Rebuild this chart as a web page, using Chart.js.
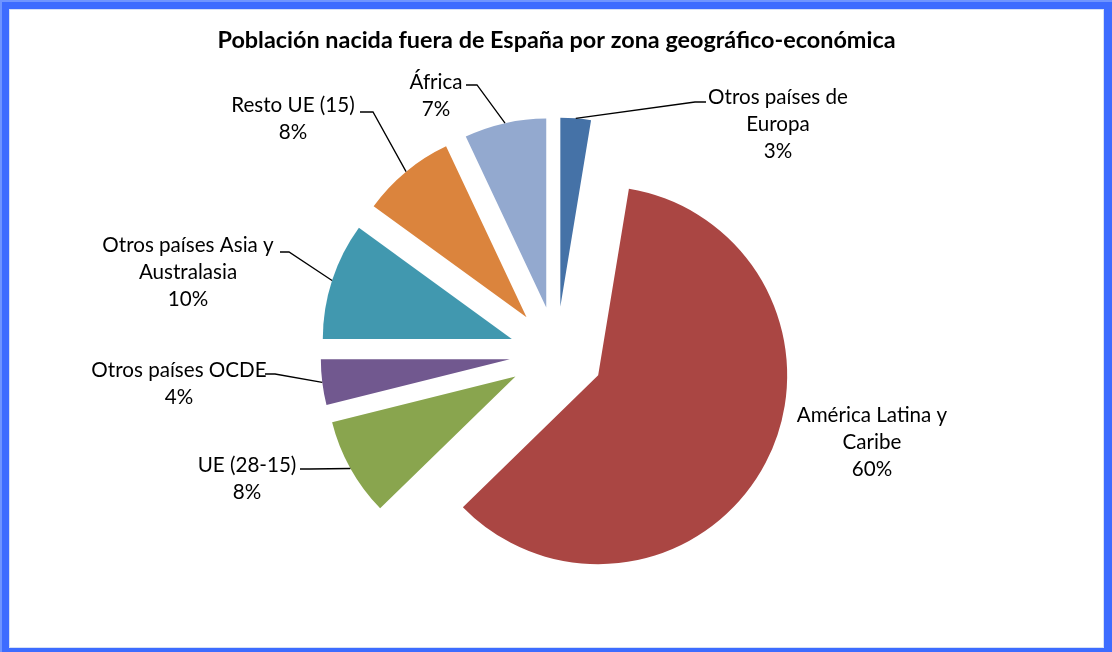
<!DOCTYPE html>
<html>
<head>
<meta charset="utf-8">
<script src="https://cdn.jsdelivr.net/npm/chart.js@4/dist/chart.umd.min.js"></script>
<style>
  body { margin: 0; background: #fff; }
  canvas { display: block; }
</style>
</head>
<body>
<canvas id="pieChartID" width="1112" height="652"></canvas>
<script>
// zones (one array of lines per label), shares in percent
var zones = [
    ['Otros países de', 'Europa'],
    ['América Latina y', 'Caribe'],
    ['UE (28-15)'],
    ['Otros países OCDE'],
    ['Otros países Asia y', 'Australasia'],
    ['Resto UE (15)'],
    ['África']
];
var shares = [2.6, 60.1, 8.4, 3.9, 10.0, 8.0, 7.0];
var sliceColors = ['#4572A7', '#AA4643', '#89A54E', '#71588F', '#4198AF', '#DB843D', '#93A9CF'];

// where each label sits, relative to the pie centre: text = first line centre,
// elbow/end = leader line bend and the end next to the text (null = no leader)
var labelSpots = [
    {text: [221.5, -256.5], elbow: [138.5, -251.5], end: [149.5, -251.5]},
    {text: [315.5, 61.5], elbow: null, end: null},
    {text: [-309.5, 111.5], elbow: [-246.5, 115.5], end: [-256.5, 115.5]},
    {text: [-377.5, 16.5], elbow: [-281.5, 20.5], end: [-291.5, 20.5]},
    {text: [-368.5, -108.5], elbow: [-267.5, -101.5], end: [-276.5, -101.5]},
    {text: [-263.5, -248.5], elbow: [-183.5, -241.5], end: [-196.5, -241.5]},
    {text: [-120.5, -271.5], elbow: [-79.5, -268.5], end: [-90.5, -268.5]}
];

var explode = 47;
var labelFont = '20.6px Lato';
var lineHeight = 27;

// blue frame round the whole picture
var framePlugin = {
    id: 'frame',
    beforeDraw: function(chart) {
        var ctx = chart.ctx;
        var w = chart.width, h = chart.height;
        ctx.save();
        ctx.fillStyle = '#3D6CFF';
        ctx.fillRect(0, 0, w, h);
        ctx.fillStyle = '#6F95FF';
        ctx.fillRect(0, 0, w, 2);
        ctx.fillRect(0, 0, 2, h);
        ctx.fillStyle = '#D5E0F7';
        ctx.fillRect(9, 9, w - 17, h - 13);
        ctx.fillStyle = '#ffffff';
        ctx.fillRect(10, 10, w - 19, h - 15);
        ctx.restore();
    }
};

// exploded slices: every arc pushed out along its middle angle
var explodePlugin = {
    id: 'explode',
    beforeDatasetDraw: function(chart, args) {
        var ctx = chart.ctx;
        args.meta.data.forEach(function(arc) {
            var p = arc.getProps(['startAngle', 'endAngle'], true);
            var mid = (p.startAngle + p.endAngle) / 2;
            ctx.save();
            ctx.translate(Math.cos(mid) * explode, Math.sin(mid) * explode);
            arc.draw(ctx);
            ctx.restore();
        });
        return false;
    }
};

// outside labels with leader lines
var labelPlugin = {
    id: 'sliceLabels',
    afterDatasetsDraw: function(chart) {
        var ctx = chart.ctx;
        var meta = chart.getDatasetMeta(0);
        var total = shares.reduce(function(a, b) { return a + b; }, 0);
        ctx.save();
        ctx.font = labelFont;
        ctx.fillStyle = '#000';
        ctx.strokeStyle = '#000';
        ctx.lineWidth = 1.3;
        ctx.textAlign = 'center';
        ctx.textBaseline = 'middle';
        meta.data.forEach(function(arc, i) {
            var p = arc.getProps(['x', 'y', 'startAngle', 'endAngle', 'outerRadius'], true);
            var mid = (p.startAngle + p.endAngle) / 2;
            var spot = labelSpots[i];
            if (spot.elbow) {
                var r = p.outerRadius + explode;
                ctx.beginPath();
                ctx.moveTo(p.x + Math.cos(mid) * r, p.y + Math.sin(mid) * r);
                ctx.lineTo(p.x + spot.elbow[0], p.y + spot.elbow[1]);
                ctx.lineTo(p.x + spot.end[0], p.y + spot.end[1]);
                ctx.stroke();
            }
            var lines = zones[i].concat([Math.round(shares[i] / total * 100) + '%']);
            lines.forEach(function(line, k) {
                ctx.fillText(line, p.x + spot.text[0], p.y + spot.text[1] + k * lineHeight);
            });
        });
        ctx.restore();
    }
};

var myChart = new Chart(document.getElementById('pieChartID'), {
    type: 'pie',
    data: {
        labels: zones.map(function(z) { return z.join(' '); }),
        datasets: [{
            data: shares,
            backgroundColor: sliceColors,
            borderWidth: 0
        }]
    },
    options: {
        responsive: false,
        animation: false,
        radius: 189,
        layout: {
            padding: {top: 0, left: 1, right: 0, bottom: 4.1}
        },
        plugins: {
            legend: {display: false},
            tooltip: {enabled: false},
            title: {
                display: true,
                text: 'Población nacida fuera de España por zona geográfico-económica',
                color: '#000',
                font: {family: 'Lato', size: 23.4, weight: 'bold', lineHeight: 1.2},
                padding: {top: 26, bottom: 5}
            }
        }
    },
    plugins: [framePlugin, explodePlugin, labelPlugin]
});
</script>
</body>
</html>
